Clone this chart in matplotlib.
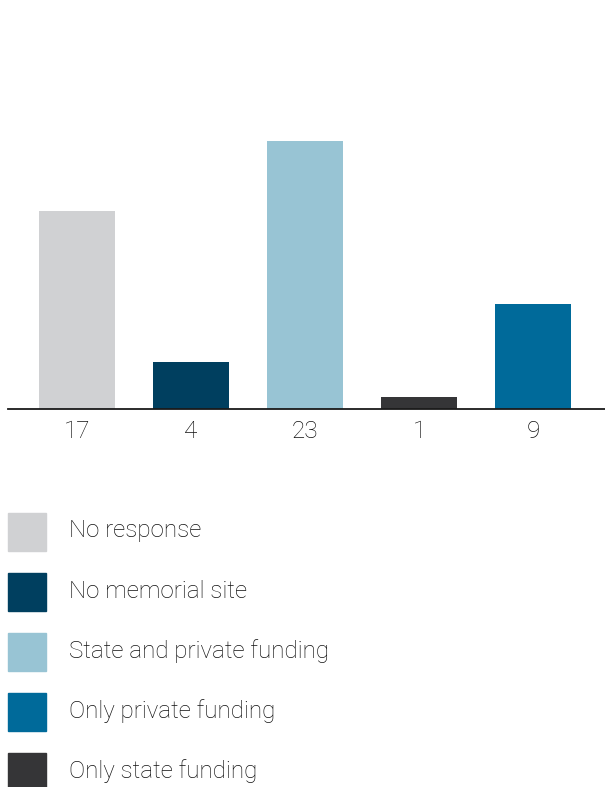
import matplotlib.pyplot as plt
from matplotlib.patches import Rectangle

# data
categories = ['No response', 'No memorial site', 'State and private funding',
              'Only state funding', 'Only private funding']
values = [17, 4, 23, 1, 9]
colors = ['#d0d1d3', '#003f5f', '#98c4d4', '#353537', '#006a9a']

legend_labels = ['No response', 'No memorial site', 'State and private funding',
                 'Only private funding', 'Only state funding']
legend_colors = ['#d0d1d3', '#003f5f', '#98c4d4', '#006a9a', '#353537']

plt.rcParams['font.family'] = ['Roboto', 'DejaVu Sans']

W, H = 605, 787
fig = plt.figure(figsize=(W / 100, H / 100), dpi=100)

# bar chart area
ax = fig.add_axes([8 / W, (H - 409) / H, 1 - 8 / W, 409 / H])
x = range(len(values))
ax.bar(x, values, width=0.667, color=colors)
ax.set_xlim(-0.605, 4.632)
ax.set_ylim(0, 409 / 11.65)
for s in ['top', 'right', 'left']:
    ax.spines[s].set_visible(False)
ax.spines['bottom'].set_linewidth(1.3)
ax.spines['bottom'].set_color('#1a1a1a')
ax.set_yticks([])
ax.set_xticks(list(x))
ax.set_xticklabels([str(v) for v in values], fontsize=17.5, fontweight='light', color='#111111')
ax.tick_params(axis='x', length=0, pad=8)
ax.patch.set_alpha(0)

# legend drawn by hand
for i, (lab, col) in enumerate(zip(legend_labels, legend_colors)):
    y_top = 513 + i * 60
    fig.patches.append(Rectangle((8 / W, 1 - (y_top + 38) / H), 38 / W, 38 / H,
                                 transform=fig.transFigure, color=col))
    fig.text(69 / W, 1 - (y_top + 18) / H, lab, fontsize=17.4, fontweight='light',
             color='#111111', va='center', ha='left')

fig.savefig('out.png', dpi=100)
